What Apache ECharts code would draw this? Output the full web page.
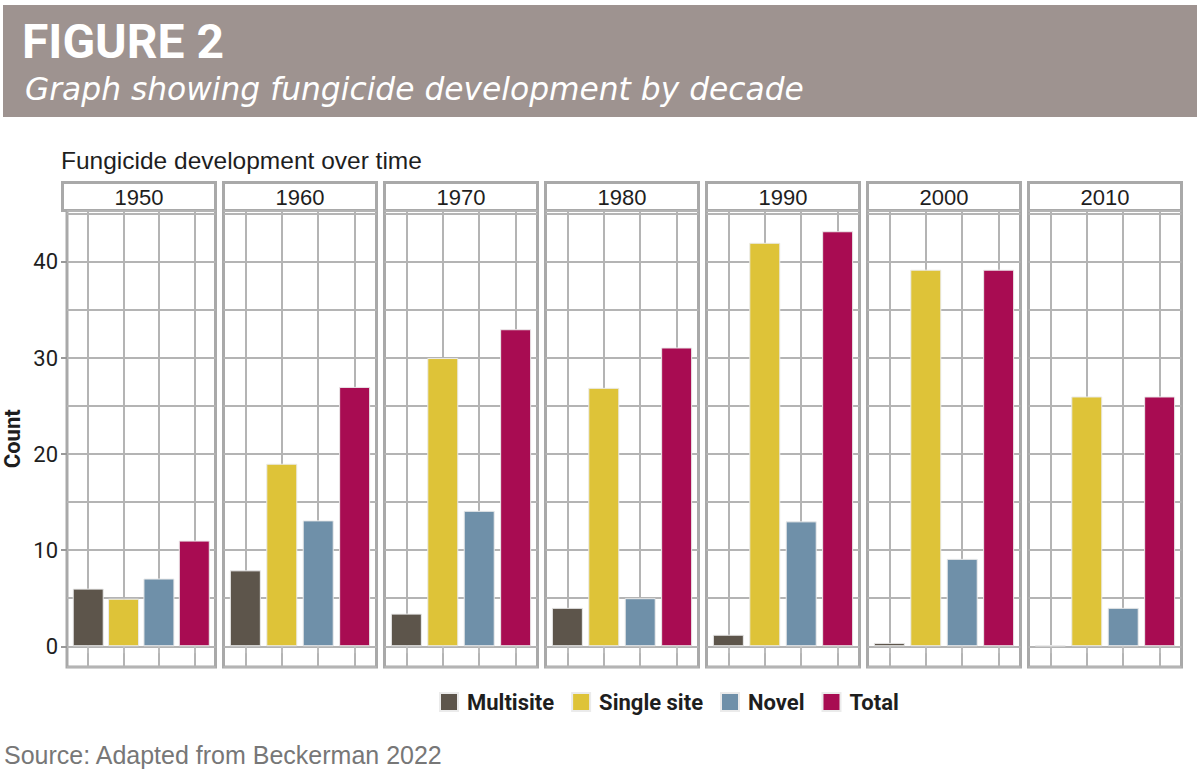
<!DOCTYPE html>
<html><head><meta charset="utf-8">
<script src="https://cdn.jsdelivr.net/npm/echarts@6/dist/echarts.min.js"></script>
<style>html,body{margin:0;padding:0;background:#fff}#c{width:1200px;height:781px}</style>
</head><body><div id="c"></div>
<script>
// ---- data ----
const decades = ['1950', '1960', '1970', '1980', '1990', '2000', '2010'];
const seriesNames = ['Multisite', 'Single site', 'Novel', 'Total'];
const multisite = [6, 7.9, 3.4, 4, 1.2, 0.35, 0.1];
const singleSite = [4.95, 19, 30, 26.9, 42, 39.2, 26];
const novel = [7.05, 13.1, 14.1, 5, 13, 9.1, 4];
const total = [11, 27, 33, 31.1, 43.2, 39.2, 26];
const yTickValues = [0, 10, 20, 30, 40];
const xTickValues = [1, 2, 3, 4];

// ---- style ----
const COND = "Roboto,'DejaVu Sans Condensed',sans-serif";
const SANS = "'Liberation Sans',Arial,sans-serif";
const colors = ['#5d554b', '#dec338', '#6f90a9', '#a80c52'];
const values = [multisite, singleSite, novel, total];
const yMin = -2.16, yMax = 45.36;
const panelLeft0 = 62.5, panelStep = 161, panelWidth = 153, panelTop = 210.5, panelHeight = 456.5;
const borderCol = '#a9a9a9', gridCol = '#b4b4b4';

const grids = [], xAxes = [], yAxes = [], series = [], graphics = [];

graphics.push({type: 'rect', shape: {x: 3, y: 5, width: 1194, height: 112}, style: {fill: '#9e9390'}, silent: true});
graphics.push({type: 'text', x: 22, y: 41, style: {text: 'FIGURE 2', fill: '#fff', font: "bold 48px " + COND, verticalAlign: 'middle'}, silent: true});
graphics.push({type: 'text', x: 25, y: 89, style: {text: 'Graph showing fungicide development by decade', fill: '#fff', font: "italic 200 31.3px 'DejaVu Sans',sans-serif", verticalAlign: 'middle'}, silent: true});
graphics.push({type: 'text', x: 61, y: 160, style: {text: 'Fungicide development over time', fill: '#1e1e1e', font: "24.5px " + SANS, verticalAlign: 'middle'}, silent: true});
graphics.push({type: 'text', x: 4, y: 755, style: {text: 'Source: Adapted from Beckerman 2022', fill: '#777', font: "25px " + SANS, verticalAlign: 'middle'}, silent: true});

decades.forEach((d, p) => {
  const left = panelLeft0 + p * panelStep;
  graphics.push({type: 'rect', shape: {x: left, y: 182.5, width: panelWidth, height: 28}, style: {fill: '#fff', stroke: borderCol, lineWidth: 3}, silent: true});
  graphics.push({type: 'text', x: left + panelWidth / 2, y: 197, style: {text: d, fill: '#1e1e1e', font: "22px " + SANS, align: 'center', verticalAlign: 'middle'}, silent: true});

  grids.push({left: left, top: panelTop, width: panelWidth, height: panelHeight, show: true,
    borderColor: borderCol, borderWidth: 3, backgroundColor: '#fff'});
  xAxes.push({gridIndex: p, type: 'value', min: 0.4, max: 4.6, splitNumber: 4,
    axisLine: {show: false},
    axisTick: {show: true, customValues: xTickValues, length: 7, lineStyle: {color: '#bdbdbd', width: 2}},
    axisLabel: {show: false},
    splitLine: {show: true, lineStyle: {color: gridCol, width: 2}}});
  yAxes.push({gridIndex: p, type: 'value', min: yMin, max: yMax, splitNumber: 5, position: 'left',
    axisLine: {show: false},
    axisTick: {show: p === 0, customValues: yTickValues, length: 6, lineStyle: {color: '#999', width: 2}},
    axisLabel: {show: p === 0, customValues: yTickValues, margin: 9, color: '#1e1e1e', fontSize: 22, fontFamily: COND,
      formatter: v => (yTickValues.indexOf(Math.round(v * 100) / 100) >= 0 ? String(Math.round(v)) : '')},
    splitLine: {show: false},
    name: p === 0 ? 'Count' : '', nameLocation: 'middle', nameGap: 44,
    nameTextStyle: {fontFamily: COND, fontWeight: 'bold', fontSize: 22, color: '#1e1e1e'}});
  yAxes.push({gridIndex: p, type: 'value', min: yMin, max: yMax, splitNumber: 9, position: 'left',
    axisLine: {show: false}, axisTick: {show: false}, axisLabel: {show: false},
    splitLine: {show: true, lineStyle: {color: gridCol, width: 2}}});
  seriesNames.forEach((name, k) => {
    series.push({type: 'bar', name: name, xAxisIndex: p, yAxisIndex: 2 * p,
      data: [[xTickValues[k], values[k][p]]], barWidth: 31, barGap: '-100%',
      itemStyle: {color: colors[k], borderColor: '#ebebeb', borderWidth: 1}, silent: true});
  });
});

const chart = echarts.init(document.getElementById('c'), null, {renderer: 'svg'});
chart.setOption({
  animation: false,
  color: colors,
  grid: grids, xAxis: xAxes, yAxis: yAxes, series: series,
  legend: {data: seriesNames, left: 434, top: 686, itemWidth: 18, itemHeight: 18, itemGap: 17, icon: 'rect',
    selectedMode: false,
    textStyle: {fontFamily: COND, fontWeight: 'bold', fontSize: 22, color: '#1e1e1e', padding: [0, 0, 0, 4]}},
  graphic: graphics
});
</script></body></html>
